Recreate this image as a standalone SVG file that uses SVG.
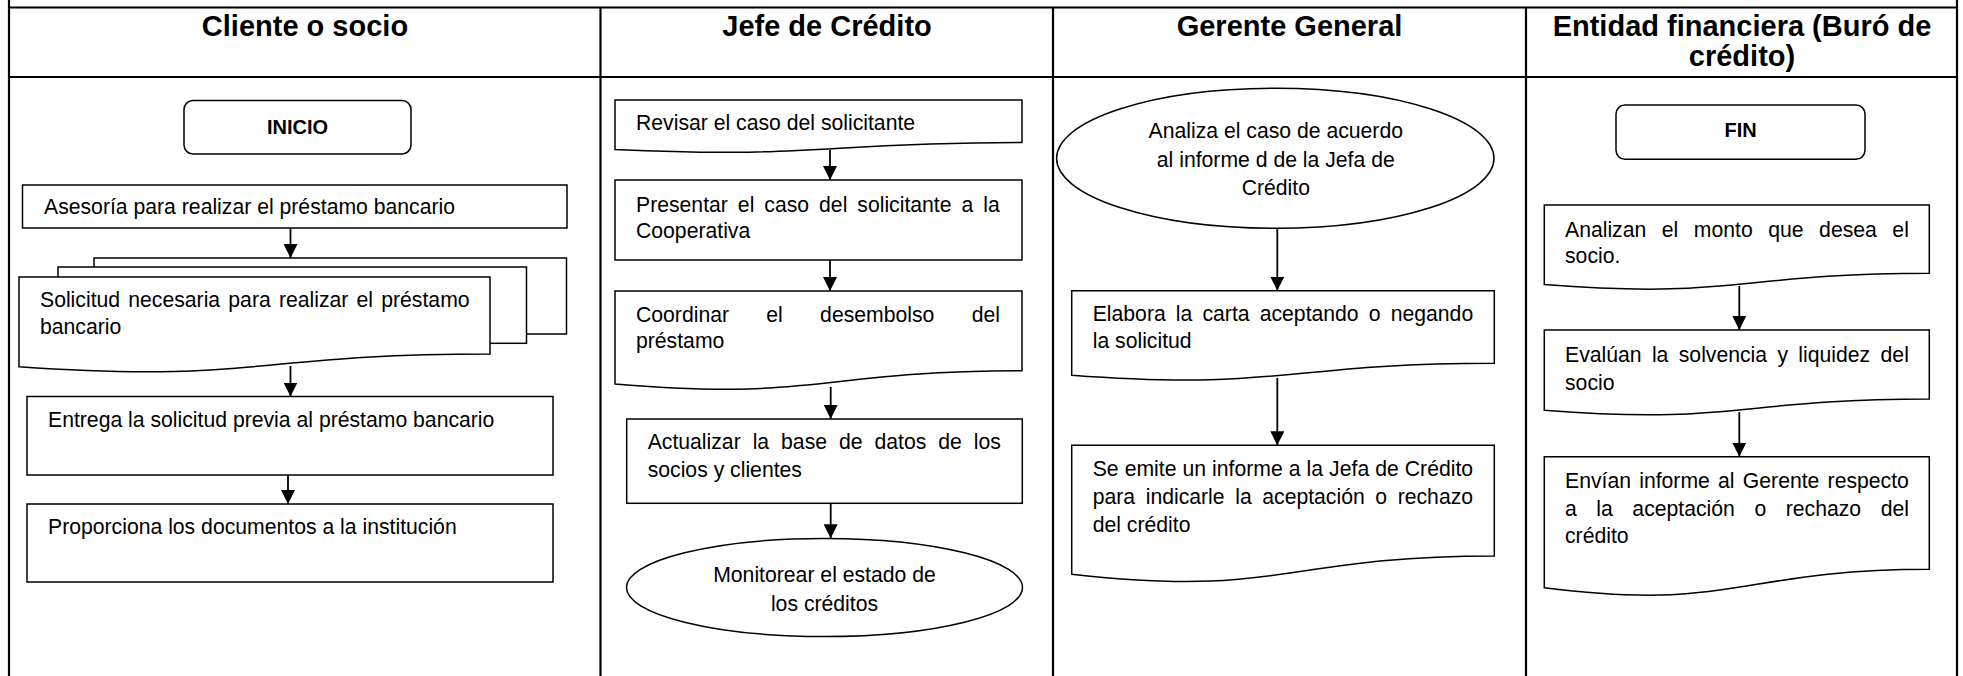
<svg xmlns="http://www.w3.org/2000/svg" width="1963" height="676" viewBox="0 0 1963 676">
<style>
.tbl{stroke:#000;stroke-width:2.2;fill:none}
.nd{fill:#fff;stroke:#000;stroke-width:1.5}
.cn{stroke:#000;stroke-width:1.8;fill:none;marker-end:url(#ah)}
text{font-family:"Liberation Sans",Arial,sans-serif;fill:#000}
.h{font-size:29px;font-weight:bold;text-anchor:middle}
.b{font-size:20px;font-weight:bold;text-anchor:middle}
.t{font-size:21.2px}
.c{text-anchor:middle}
</style>
<defs>
<marker id="ah" markerUnits="userSpaceOnUse" viewBox="0 0 14 14" refX="14" refY="7" markerWidth="14" markerHeight="14" orient="auto">
<path d="M0,0 L14,7 L0,14 z" fill="#000"/>
</marker>
</defs>
<rect width="1963" height="676" fill="#fff"/>
<g id="table">
<line class="tbl" x1="9" y1="0" x2="9" y2="676"/>
<line class="tbl" x1="1957" y1="0" x2="1957" y2="676"/>
<line class="tbl" x1="9" y1="7.5" x2="1957" y2="7.5"/>
<line class="tbl" x1="9" y1="77" x2="1957" y2="77"/>
<line class="tbl" x1="600.5" y1="7.5" x2="600.5" y2="676"/>
<line class="tbl" x1="1053" y1="7.5" x2="1053" y2="676"/>
<line class="tbl" x1="1526" y1="7.5" x2="1526" y2="676"/>
<text class="h" x="305" y="35.5">Cliente o socio</text>
<text class="h" x="827" y="35.5">Jefe de Crédito</text>
<text class="h" x="1289.5" y="35.5">Gerente General</text>
<text class="h" x="1742" y="35.5">Entidad financiera (Buró de</text>
<text class="h" x="1742" y="66">crédito)</text>
</g>
<g id="connectors">
<line class="cn" x1="290.5" y1="228" x2="290.5" y2="258"/>
<line class="cn" x1="290.5" y1="366" x2="290.5" y2="396.5"/>
<line class="cn" x1="288" y1="475" x2="288" y2="504"/>
<line class="cn" x1="830" y1="150" x2="830" y2="180"/>
<line class="cn" x1="830" y1="260" x2="830" y2="291"/>
<line class="cn" x1="830.7" y1="387" x2="830.7" y2="419"/>
<line class="cn" x1="830.7" y1="503.3" x2="830.7" y2="538.3"/>
<line class="cn" x1="1277.3" y1="228.3" x2="1277.3" y2="290.7"/>
<line class="cn" x1="1277.3" y1="378" x2="1277.3" y2="445.3"/>
<line class="cn" x1="1739.3" y1="286" x2="1739.3" y2="330"/>
<line class="cn" x1="1739.3" y1="412" x2="1739.3" y2="456.7"/>
</g>
<g id="inicio">
<rect class="nd" x="184" y="100.5" width="227" height="53.5" rx="9"/>
<text class="b" x="297.5" y="133.5">INICIO</text>
</g>
<g id="asesoria">
<rect class="nd" x="22.5" y="185" width="544.5" height="43"/>
<text class="t" x="44" y="214">Asesoría para realizar el préstamo bancario</text>
</g>
<g id="solicitud">
<rect class="nd" x="94" y="258" width="472.5" height="76"/>
<rect class="nd" x="58" y="267" width="468.5" height="76.3"/>
<path class="nd" d="M19,277 H490 V354 C254.5,354 254.5,383.3 19,366.7 Z"/>
<text class="t" x="40" y="306.7" word-spacing="2.3">Solicitud necesaria para realizar el préstamo</text>
<text class="t" x="40" y="334">bancario</text>
</g>
<g id="entrega">
<rect class="nd" x="27" y="396.5" width="526" height="78.5"/>
<text class="t" x="48" y="427">Entrega la solicitud previa al préstamo bancario</text>
</g>
<g id="proporciona">
<rect class="nd" x="27" y="504" width="526" height="78"/>
<text class="t" x="48" y="534">Proporciona los documentos a la institución</text>
</g>
<g id="revisar">
<path class="nd" d="M615,100 H1022 V142.5 C818.5,142.5 818.5,158.7 615,149.5 Z"/>
<text class="t" x="636" y="130">Revisar el caso del solicitante</text>
</g>
<g id="presentar">
<rect class="nd" x="615" y="180" width="407" height="80"/>
<text class="t" x="636" y="211.7" word-spacing="4.1">Presentar el caso del solicitante a la</text>
<text class="t" x="636" y="238.3">Cooperativa</text>
</g>
<g id="coordinar">
<path class="nd" d="M615,291 H1022 V370.8 C818.5,370.8 818.5,401.2 615,383.9 Z"/>
<text class="t" x="636" y="321.7" word-spacing="31.4">Coordinar el desembolso del</text>
<text class="t" x="636" y="348.3">préstamo</text>
</g>
<g id="actualizar">
<rect class="nd" x="626.7" y="419" width="395.6" height="84.3"/>
<text class="t" x="647.7" y="449" word-spacing="6.05">Actualizar la base de datos de los</text>
<text class="t" x="647.7" y="476.7">socios y clientes</text>
</g>
<g id="monitorear">
<ellipse class="nd" cx="824.5" cy="587.5" rx="198" ry="49"/>
<text class="t c" x="824.5" y="582.3">Monitorear el estado de</text>
<text class="t c" x="824.5" y="611">los créditos</text>
</g>
<g id="analiza">
<ellipse class="nd" cx="1275.3" cy="158.3" rx="218.7" ry="70"/>
<text class="t c" x="1275.8" y="138.3">Analiza el caso de acuerdo</text>
<text class="t c" x="1275.8" y="166.7">al informe d de la Jefa de</text>
<text class="t c" x="1275.8" y="195">Crédito</text>
</g>
<g id="elabora">
<path class="nd" d="M1071.7,290.7 H1494.3 V363.3 C1283,363.3 1283,390.9 1071.7,375.2 Z"/>
<text class="t" x="1092.7" y="321" word-spacing="4.24">Elabora la carta aceptando o negando</text>
<text class="t" x="1092.7" y="348.3">la solicitud</text>
</g>
<g id="emite">
<path class="nd" d="M1071.7,445.3 H1494.3 V556 C1283,556 1283,598.1 1071.7,574.2 Z"/>
<text class="t" x="1092.7" y="475.7" word-spacing="0.15">Se emite un informe a la Jefa de Crédito</text>
<text class="t" x="1092.7" y="504" word-spacing="4.7">para indicarle la aceptación o rechazo</text>
<text class="t" x="1092.7" y="531.7">del crédito</text>
</g>
<g id="fin">
<rect class="nd" x="1616" y="105" width="249" height="54.3" rx="9"/>
<text class="b" x="1740.7" y="137.3">FIN</text>
</g>
<g id="analizan">
<path class="nd" d="M1544.3,205 H1929.3 V273.3 C1736.8,273.3 1736.8,299.4 1544.3,284.6 Z"/>
<text class="t" x="1565" y="236.7" word-spacing="9.64">Analizan el monto que desea el</text>
<text class="t" x="1565" y="263.3">socio.</text>
</g>
<g id="evaluan">
<path class="nd" d="M1544.3,330 H1929.3 V399 C1736.8,399 1736.8,425.2 1544.3,410.3 Z"/>
<text class="t" x="1565" y="361.7" word-spacing="4.46">Evalúan la solvencia y liquidez del</text>
<text class="t" x="1565" y="390">socio</text>
</g>
<g id="envian">
<path class="nd" d="M1544.3,456.7 H1929.3 V569.3 C1736.8,569.3 1736.8,612.2 1544.3,587.8 Z"/>
<text class="t" x="1565" y="488.3" word-spacing="2.35">Envían informe al Gerente respecto</text>
<text class="t" x="1565" y="516" word-spacing="13.66">a la aceptación o rechazo del</text>
<text class="t" x="1565" y="543.3">crédito</text>
</g>
</svg>
